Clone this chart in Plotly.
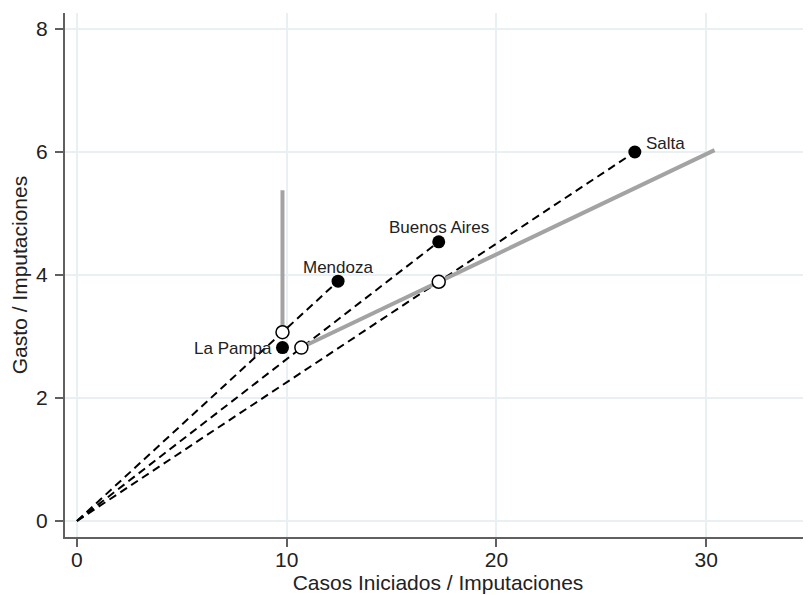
import plotly.graph_objects as go

# Data
provinces = ["Salta", "Buenos Aires", "Mendoza", "La Pampa"]
casos = [26.6, 17.25, 12.45, 9.8]
gasto = [6.0, 4.54, 3.9, 2.82]

# projections onto frontier (open circles)
proj_x = [9.8, 10.7, 17.25]
proj_y = [3.07, 2.82, 3.89]

# frontier segments (gray)
front_v_x = [9.8, 9.8]
front_v_y = [5.38, 3.07]
front_s_x = [10.7, 17.25, 30.4]
front_s_y = [2.82, 3.89, 6.03]

# rays from origin to inefficient units
ray_targets = ["Salta", "Buenos Aires", "Mendoza"]

x_ticks = [0, 10, 20, 30]
y_ticks = [0, 2, 4, 6, 8]

FONT = "Liberation Sans, Arial"

# label placement (style only)
label_style = {
    "Salta": dict(xanchor="left", xshift=9, yshift=9),
    "Buenos Aires": dict(xanchor="center", xshift=0, yshift=14),
    "Mendoza": dict(xanchor="center", xshift=0, yshift=14),
    "La Pampa": dict(xanchor="right", xshift=-8, yshift=-1),
}

fig = go.Figure()

for name in ray_targets:
    i = provinces.index(name)
    fig.add_trace(go.Scatter(x=[0, casos[i]], y=[0, gasto[i]], mode="lines",
                             line=dict(color="black", width=2, dash="8px,5px"),
                             showlegend=False, hoverinfo="skip"))

fig.add_trace(go.Scatter(x=front_v_x, y=front_v_y, mode="lines",
                         line=dict(color="#a3a3a3", width=4), showlegend=False))
fig.add_trace(go.Scatter(x=front_s_x, y=front_s_y, mode="lines",
                         line=dict(color="#a3a3a3", width=4), showlegend=False))

fig.add_trace(go.Scatter(x=proj_x, y=proj_y, mode="markers",
                         marker=dict(size=13, color="white",
                                     line=dict(color="black", width=1.5)),
                         showlegend=False))

fig.add_trace(go.Scatter(x=casos, y=gasto, mode="markers",
                         marker=dict(size=13, color="black"),
                         showlegend=False))

for p, cx, gy in zip(provinces, casos, gasto):
    fig.add_annotation(x=cx, y=gy, text=p, showarrow=False, yanchor="middle",
                       font=dict(family=FONT, size=17, color="#222"), **label_style[p])

axis_common = dict(showline=True, linecolor="#606060", linewidth=2, mirror=False,
                   ticks="outside", ticklen=8, tickwidth=1.5, tickcolor="#606060",
                   showgrid=True, gridcolor="#e8f0f2", gridwidth=1.5, zeroline=False,
                   automargin=False,
                   tickfont=dict(family=FONT, size=21, color="#222"),
                   title_font=dict(family=FONT, size=21, color="#222"))

# page body adds an 8px offset, so the figure is sized to fill the window exactly
fig.update_layout(
    width=803, height=587,
    margin=dict(l=57, r=0, t=5, b=58),
    plot_bgcolor="white", paper_bgcolor="white",
    xaxis=dict(range=[-0.57, 35.0], tickvals=x_ticks, ticklabelstandoff=-5,
               title=dict(text="Casos Iniciados / Imputaciones", standoff=2), **axis_common),
    yaxis=dict(range=[-0.26, 8.26], tickvals=y_ticks, ticklabelstandoff=3,
               title=dict(text="Gasto / Imputaciones", standoff=6), **axis_common),
)

fig.write_html("out.html")
